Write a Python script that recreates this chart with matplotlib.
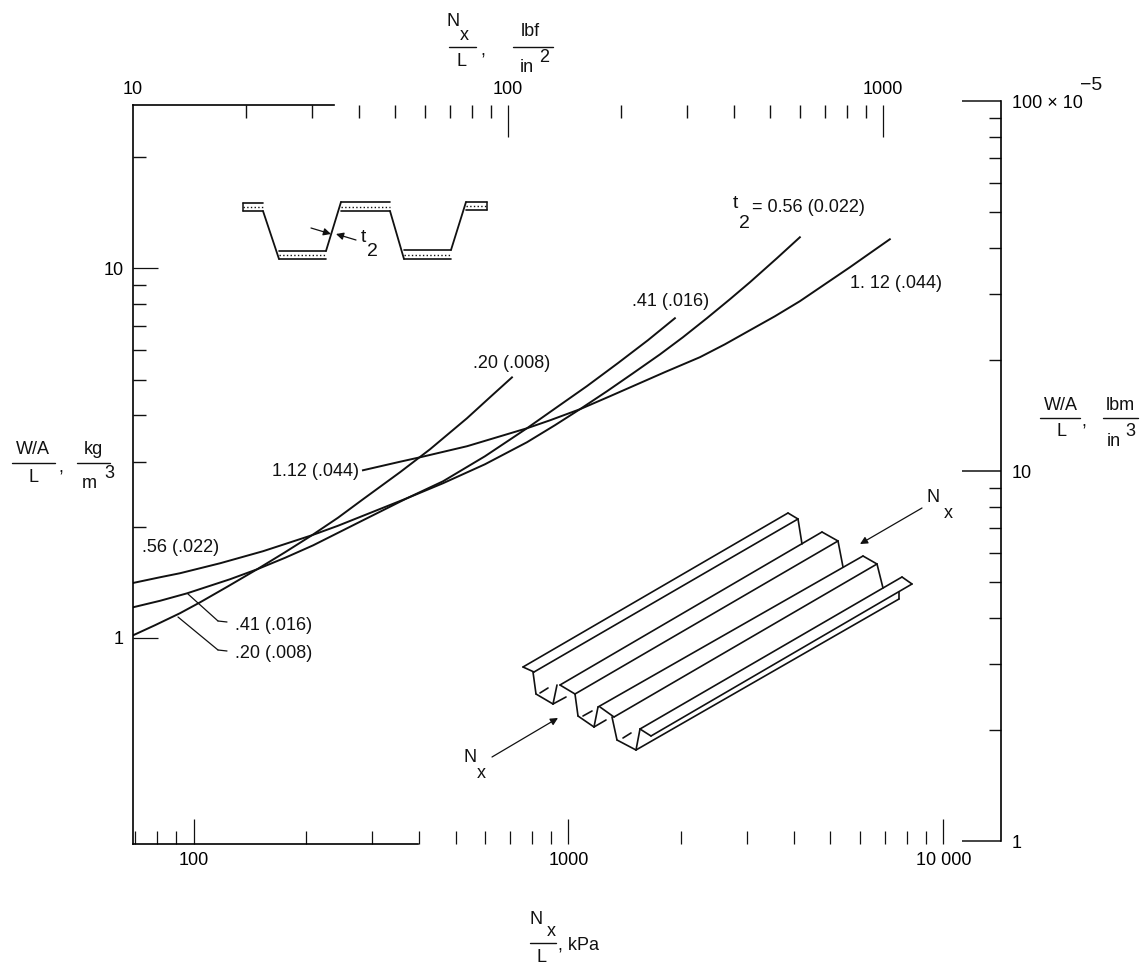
import matplotlib
matplotlib.use("Agg")
import matplotlib.pyplot as plt

plt.rcParams['font.family'] = ['Liberation Sans', 'DejaVu Sans']

# curves, x in kPa, y in kg/m3
x_020 = [68.95, 78.9, 92.0, 104.1, 123.6, 147.7, 175.4, 207, 242.8, 283.1, 355.4, 427.2, 536.3, 617.8, 706.9]
y_020 = [1.016, 1.082, 1.166, 1.248, 1.379, 1.533, 1.705, 1.896, 2.114, 2.372, 2.807, 3.238, 3.930, 4.48, 5.07]
x_041 = [68.95, 81.4, 96.1, 125.1, 147.7, 175.4, 208.4, 283.1, 370.9, 462.8, 598.8, 775, 931.5, 1120, 1355, 1629, 1923]
y_041 = [1.210, 1.260, 1.320, 1.441, 1.533, 1.647, 1.780, 2.081, 2.387, 2.653, 3.101, 3.692, 4.21, 4.80, 5.54, 6.39, 7.33]
x_056 = [68.95, 81.4, 92.0, 117.7, 153.2, 207, 242.8, 283.1, 370.9, 462.8, 598.8, 775, 920, 1073, 1267,
         1486, 1754, 2020, 2340, 2696, 3048, 3597, 4143]
y_056 = [1.408, 1.459, 1.496, 1.592, 1.716, 1.896, 2.011, 2.140, 2.387, 2.621, 2.950, 3.384, 3.762, 4.157, 4.65,
         5.20, 5.85, 6.51, 7.33, 8.25, 9.17, 10.65, 12.14]
x_112 = [283.1, 355.4, 401.8, 536.3, 644.7, 775, 892.9, 1073, 1290, 1486, 1809, 2243, 2614, 3048, 3554,
         4143, 4831, 5633, 6368, 7199]
y_112 = [2.842, 2.997, 3.081, 3.301, 3.491, 3.692, 3.880, 4.157, 4.507, 4.80, 5.24, 5.75, 6.23, 6.80, 7.42,
         8.15, 9.06, 10.07, 10.99, 11.99]

bottom_major = [100, 1000, 10000]
bottom_labels = ['100', '1000', '10 000']
bottom_minor = [70, 80, 90, 200, 300, 400, 500, 600, 700, 800, 900,
                2000, 3000, 4000, 5000, 6000, 7000, 8000, 9000]
top_major = [10, 100, 1000]
top_labels = ['10', '100', '1000']
top_minor = [20, 30, 40, 50, 60, 70, 80, 90, 200, 300, 400, 500, 600, 700, 800, 900]
left_major = [1, 10]
left_labels = ['1', '10']
left_minor = [2, 3, 4, 5, 6, 7, 8, 9, 20]
right_major = [1, 10, 100]
right_labels = ['1', '10', '100 \u00d7 10']
right_minor = [2, 3, 4, 5, 6, 7, 8, 9, 20, 30, 40, 50, 60, 70, 80, 90]

FS = 13
LC = '#111111'

fig = plt.figure(figsize=(11.42, 9.65), dpi=100)

# main axes, bottom and left scales
ax = fig.add_axes([133/1142, 1-844/965, 868/1142, 739/965])
ax.set_xscale('log')
ax.set_yscale('log')
ax.set_xlim(68.95, 14250)
ax.set_ylim(0.2768, 27.68)
for x, y in [(x_020, y_020), (x_041, y_041), (x_056, y_056), (x_112, y_112)]:
    ax.plot(x, y, color=LC, lw=1.4)
ax.set_xticks(bottom_major, bottom_labels)
ax.set_xticks(bottom_minor, minor=True, labels=[])
ax.set_yticks(left_major, left_labels)
ax.set_yticks(left_minor, minor=True, labels=[])
ax.tick_params(axis='x', which='major', direction='in', length=18, width=0.9, labelsize=FS, pad=6, color=LC)
ax.tick_params(axis='x', which='minor', direction='in', length=9.5, width=0.9, color=LC)
ax.tick_params(axis='y', which='major', direction='in', length=18, width=0.9, labelsize=FS, pad=7, color=LC)
ax.tick_params(axis='y', which='minor', direction='in', length=9, width=1.0, color=LC)
ax.spines['top'].set_visible(False)
ax.spines['right'].set_visible(False)
ax.spines['left'].set_linewidth(1.2)
ax.spines['bottom'].set_linewidth(1.2)
ax.spines['bottom'].set_bounds(68.95, 398)

# top scale, lbf/in2
top = ax.twiny()
top.set_xscale('log')
top.set_xlim(10, 2065)
top.set_xticks(top_major, top_labels)
top.set_xticks(top_minor, minor=True, labels=[])
top.tick_params(axis='x', which='major', direction='in', length=23, width=0.9, labelsize=FS, pad=5, color=LC)
top.tick_params(axis='x', which='minor', direction='in', length=9.5, width=1.0, color=LC)
top.xaxis.get_major_ticks()[0].tick2line.set_visible(False)
for s in ['left', 'right', 'bottom']:
    top.spines[s].set_visible(False)
top.spines['top'].set_bounds(10, 34.4)
top.spines['top'].set_linewidth(1.2)

# right scale, lbm/in3
right = fig.add_axes([133/1142, 1-841/965, 868/1142, 740/965], facecolor='none')
right.set_yscale('log')
right.set_ylim(1, 100)
right.set_xticks([])
right.yaxis.tick_right()
right.set_yticks(right_major, right_labels)
right.set_yticks(right_minor, minor=True, labels=[])
right.tick_params(axis='y', which='major', direction='in', length=28, width=1.1, labelsize=FS, pad=8, color=LC)
right.tick_params(axis='y', which='minor', direction='in', length=9, width=1.0, color=LC)
for s in ['left', 'top', 'bottom']:
    right.spines[s].set_visible(False)
right.spines['right'].set_linewidth(1.2)

# overlay in pixel coordinates for labels and the two sketches
ov = fig.add_axes([0, 0, 1, 1], facecolor='none')
ov.set_xlim(0, 1142)
ov.set_ylim(965, 0)
ov.axis('off')


def label(x, y, s, ha='left', size=FS):
    ov.text(x, y, s, ha=ha, va='center', fontsize=size, color=LC)


def seg(x0, y0, x1, y1, lw=1.1, ls='-'):
    ov.plot([x0, x1], [y0, y1], color=LC, lw=lw, ls=ls, solid_capstyle='round')


def arrow(x0, y0, x1, y1):
    ov.annotate('', xy=(x1, y1), xytext=(x0, y0),
                arrowprops=dict(arrowstyle='-|>', color=LC, lw=0.9, mutation_scale=11, shrinkA=0, shrinkB=0))


label(1080, 86, '\u22125', size=14)

# curve labels
label(733, 204, 't', size=14)
label(739, 224, '2', size=14)
label(752, 208, '= 0.56 (0.022)')
label(632, 301, '.41 (.016)')
label(850, 284, '1. 12 (.044)')
label(473, 363, '.20 (.008)')
label(272, 471, '1.12 (.044)')
label(142, 547, '.56 (.022)')
label(235, 625, '.41 (.016)')
label(235, 653, '.20 (.008)')
seg(188, 594, 218, 621, lw=0.9)
seg(218, 621, 227, 622, lw=0.9)
seg(178, 617, 218, 650, lw=0.9)
seg(218, 650, 227, 651, lw=0.9)

# left axis title
label(33, 449, 'W/A', ha='center')
seg(12, 463, 55, 463, lw=1.0)
label(33, 477, 'L', ha='center')
label(58, 468, ',')
label(93, 449, 'kg', ha='center')
seg(77, 463, 110, 463, lw=1.0)
label(89, 484, 'm', ha='center')
label(104, 474, '3')

# right axis title
label(1061, 406, 'W/A', ha='center')
seg(1040, 418, 1080, 418, lw=1.0)
label(1061, 432, 'L', ha='center')
label(1081, 422, ',')
label(1120, 405, 'lbm', ha='center')
seg(1103, 418, 1138, 418, lw=1.0)
label(1114, 442, 'in', ha='center')
label(1125, 432, '3')

# top title
label(453, 22, 'N', ha='center')
label(464, 36, 'x', ha='center')
seg(449, 47, 476, 47, lw=1.0)
label(462, 62, 'L', ha='center')
label(480, 51, ',')
label(530, 31, 'lbf', ha='center')
seg(513, 47, 553, 47, lw=1.0)
label(527, 67, 'in', ha='center')
label(539, 58, '2')

# bottom title
label(536, 920, 'N', ha='center')
label(551, 932, 'x', ha='center')
seg(530, 943, 556, 943, lw=1.0)
label(541, 957, 'L', ha='center')
label(558, 945, ', kPa')

# cross section sketch with stippled flanges
flange_top = [(243, 203, 263, 211), (341, 202, 390, 211), (466, 202, 487, 210)]
flange_bot = [(279, 251, 326, 259), (404, 250, 451, 259)]
for x0, y0, x1, y1 in flange_top + flange_bot:
    seg(x0, y0, x1, y0, lw=1.2)
    seg(x0, y1, x1, y1, lw=1.2)
    seg(x0, (y0+y1)/2, x1, (y0+y1)/2, lw=1.0, ls=':')
seg(243, 203, 243, 211)
seg(487, 202, 487, 210)
webs = [(263, 211, 279, 259), (326, 251, 341, 202), (390, 211, 404, 259), (451, 250, 466, 202)]
for w in webs:
    seg(*w, lw=1.3)
arrow(311, 228, 331, 234)
arrow(356, 240, 336, 234)
label(361, 237, 't', size=14)
label(367, 251, '2', size=14)

# corrugated panel sketch
panel = [
    (523, 667, 788, 513), (534, 672, 798, 519), (523, 667, 534, 672), (788, 513, 798, 519),
    (798, 519, 802, 544), (533, 672, 536, 694), (536, 694, 553, 704), (553, 704, 557, 685),
    (553, 704, 566, 697), (560, 685, 822, 532), (575, 694, 838, 541), (560, 685, 575, 694),
    (822, 532, 838, 541), (838, 541, 843, 567), (575, 694, 578, 716), (578, 716, 594, 727),
    (594, 727, 598, 707), (594, 727, 606, 720), (598, 707, 863, 556), (614, 717, 877, 564),
    (600, 707, 614, 717), (863, 556, 877, 564), (877, 564, 883, 588), (612, 717, 617, 740),
    (617, 740, 636, 750), (636, 750, 640, 729), (640, 729, 902, 577), (902, 577, 912, 584),
    (912, 584, 651, 736), (640, 729, 651, 736), (636, 750, 899, 599), (899, 592, 899, 599),
    (540, 693, 548, 688), (583, 716, 592, 711), (623, 738, 631, 733),
]
for s in panel:
    seg(*s, lw=1.2)
arrow(922, 508, 860, 544)
arrow(492, 757, 558, 718)
label(933, 497, 'N', ha='center')
label(948, 513, 'x', ha='center')
label(470, 758, 'N', ha='center')
label(481, 774, 'x', ha='center')

fig.savefig('out.png', dpi=100)
